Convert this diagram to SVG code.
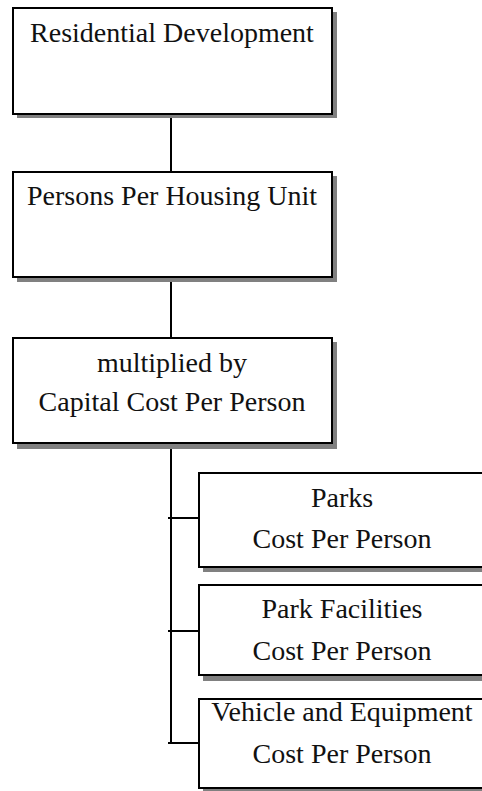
<svg xmlns="http://www.w3.org/2000/svg" width="482" height="791" viewBox="0 0 482 791">
<style>
.box{fill:#fff;stroke:#000;stroke-width:2}
.sh{fill:#808080}
.t{font-family:"Liberation Serif","Times New Roman",serif;font-size:28px;fill:#111;text-anchor:middle}
.c{stroke:#000;stroke-width:2;fill:none}
</style>
<rect width="482" height="791" fill="#fff"/>
<g id="connectors">
<line class="c" x1="171" y1="114" x2="171" y2="172"/>
<line class="c" x1="171" y1="277" x2="171" y2="338"/>
<line class="c" x1="171" y1="443" x2="171" y2="744"/>
<line class="c" x1="168" y1="518" x2="199" y2="518"/>
<line class="c" x1="168" y1="631" x2="199" y2="631"/>
<line class="c" x1="168" y1="743" x2="199" y2="743"/>
</g>
<g id="residential">
<rect class="sh" x="17" y="12" width="320" height="106"/>
<rect class="box" x="13" y="8" width="319" height="106"/>
<text class="t" x="172" y="42">Residential Development</text>
</g>
<g id="persons">
<rect class="sh" x="17" y="176" width="320" height="106"/>
<rect class="box" x="13" y="172" width="319" height="105"/>
<text class="t" x="172" y="205">Persons Per Housing Unit</text>
</g>
<g id="multiplied">
<rect class="sh" x="17" y="342" width="320" height="107"/>
<rect class="box" x="13" y="338" width="319" height="105"/>
<text class="t" x="172" y="372">multiplied by</text>
<text class="t" x="172" y="411">Capital Cost Per Person</text>
</g>
<g id="parks">
<rect class="sh" x="203" y="477" width="290" height="95"/>
<rect class="box" x="199" y="473" width="290" height="94"/>
<text class="t" x="342" y="507">Parks</text>
<text class="t" x="342" y="548">Cost Per Person</text>
</g>
<g id="parkfacilities">
<rect class="sh" x="203" y="589" width="290" height="92"/>
<rect class="box" x="199" y="585" width="290" height="90"/>
<text class="t" x="342" y="618">Park Facilities</text>
<text class="t" x="342" y="660">Cost Per Person</text>
</g>
<g id="vehicle">
<rect class="sh" x="203" y="703" width="290" height="90"/>
<rect class="box" x="199" y="699" width="290" height="89"/>
<text class="t" x="342" y="721">Vehicle and Equipment</text>
<text class="t" x="342" y="763">Cost Per Person</text>
</g>
</svg>
